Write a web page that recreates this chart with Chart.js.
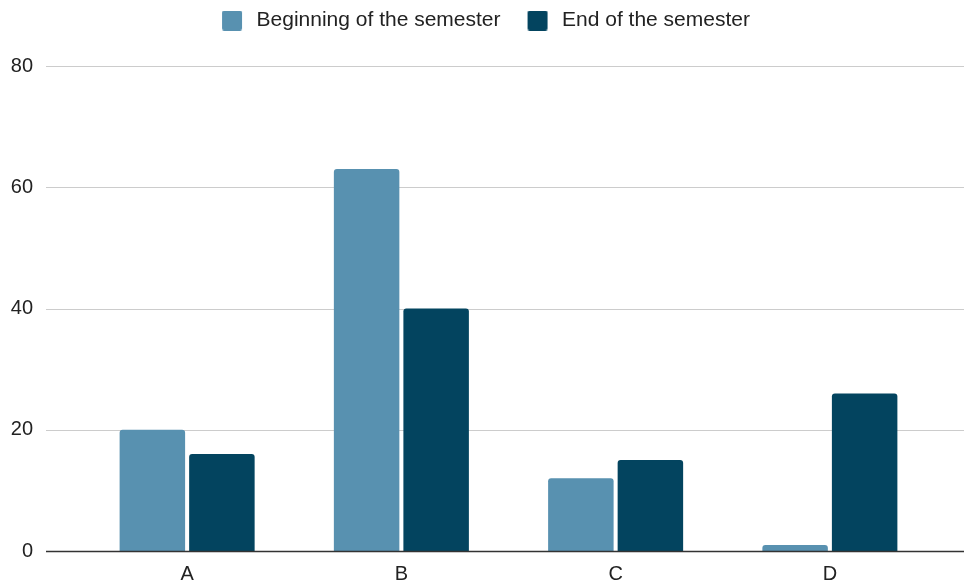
<!DOCTYPE html>
<html>
<head>
<meta charset="utf-8">
<title>Beginning vs end of the semester</title>
<script src="https://cdn.jsdelivr.net/npm/chart.js@4/dist/chart.umd.min.js"></script>
<style>
  html, body { margin: 0; padding: 0; background: #ffffff; }
  #wrap { width: 964px; height: 583px; }
</style>
</head>
<body>
<div id="wrap"><canvas id="chart" width="964" height="583"></canvas></div>
<script>
// Categories and series values
const categories = ['A', 'B', 'C', 'D'];
const beginningValues = [20, 63, 12, 1];
const endValues = [16, 40, 15, 26];
const seriesNames = ['Beginning of the semester', 'End of the semester'];
const yTicks = [0, 20, 40, 60, 80];

const COLOR_BEGIN = '#5891b0';
const COLOR_END = '#03445f';

Chart.defaults.font.family = '"Liberation Sans", Arial, Helvetica, sans-serif';
Chart.defaults.font.size = 20;
Chart.defaults.color = '#222222';

// Legend swatch: a rounded square with blank space to its left for item spacing
function makeSwatch(color) {
  const c = document.createElement('canvas');
  c.width = 41;
  c.height = 20;
  const ctx = c.getContext('2d');
  ctx.fillStyle = color;
  ctx.beginPath();
  ctx.roundRect(17, 0, 20, 20, 2);
  ctx.fill();
  return c;
}

// Horizontal grid lines spanning the full plot width, baseline on top of the bars
const fullGrid = {
  id: 'fullGrid',
  beforeDatasetsDraw(chart) {
    const y = chart.scales.y;
    const ctx = chart.ctx;
    ctx.save();
    ctx.strokeStyle = '#cccccc';
    ctx.lineWidth = 1;
    y.ticks.forEach(t => {
      if (t.value === 0) return;
      const py = Math.round(y.getPixelForValue(t.value)) + 0.5;
      ctx.beginPath();
      ctx.moveTo(46, py);
      ctx.lineTo(chart.width, py);
      ctx.stroke();
    });
    ctx.restore();
  },
  afterDatasetsDraw(chart) {
    const y = chart.scales.y;
    const ctx = chart.ctx;
    const py = Math.round(y.getPixelForValue(0)) + 0.5;
    ctx.save();
    ctx.strokeStyle = '#333333';
    ctx.lineWidth = 1.5;
    ctx.beginPath();
    ctx.moveTo(46, py);
    ctx.lineTo(chart.width, py);
    ctx.stroke();
    ctx.restore();
  }
};

new Chart(document.getElementById('chart'), {
  type: 'bar',
  data: {
    labels: categories,
    datasets: [
      {
        label: seriesNames[0],
        data: beginningValues,
        backgroundColor: COLOR_BEGIN,
        borderRadius: 3,
        borderSkipped: 'start',
        categoryPercentage: 0.649,
        barPercentage: 0.942
      },
      {
        label: seriesNames[1],
        data: endValues,
        backgroundColor: COLOR_END,
        borderRadius: 3,
        borderSkipped: 'start',
        categoryPercentage: 0.649,
        barPercentage: 0.942
      }
    ]
  },
  options: {
    responsive: false,
    animation: false,
    layout: { padding: { top: 0, right: 9, bottom: 0, left: 0 } },
    plugins: {
      tooltip: { enabled: false },
      legend: {
        position: 'top',
        align: 'center',
        labels: {
          usePointStyle: true,
          pointStyleWidth: 41,
          padding: 10,
          color: '#222222',
          font: { size: 21 },
          generateLabels(chart) {
            const items = Chart.defaults.plugins.legend.labels.generateLabels(chart);
            const colors = [COLOR_BEGIN, COLOR_END];
            return items.map((it, i) => Object.assign(it, { pointStyle: makeSwatch(colors[i]) }));
          }
        }
      },
      // empty title used as a spacer between the legend and the plot
      title: {
        display: true,
        text: '',
        position: 'top',
        weight: 500,
        padding: 0,
        font: { size: 25, lineHeight: 1 }
      }
    },
    scales: {
      x: {
        grid: { display: false, drawTicks: false },
        border: { display: false },
        ticks: { padding: 11, color: '#222222', font: { size: 20 } },
        afterFit(s) { s.height = 32; s.paddingRight = 27; }
      },
      y: {
        min: 0,
        max: 80,
        afterBuildTicks(s) { s.ticks = yTicks.map(v => ({ value: v })); },
        grid: { display: false, drawTicks: false },
        border: { display: false },
        ticks: { padding: 47, color: '#222222', font: { size: 20 } },
        afterFit(s) { s.width = 80; s.paddingTop = 12; s.paddingBottom = 12; }
      }
    }
  },
  plugins: [fullGrid]
});
</script>
</body>
</html>
